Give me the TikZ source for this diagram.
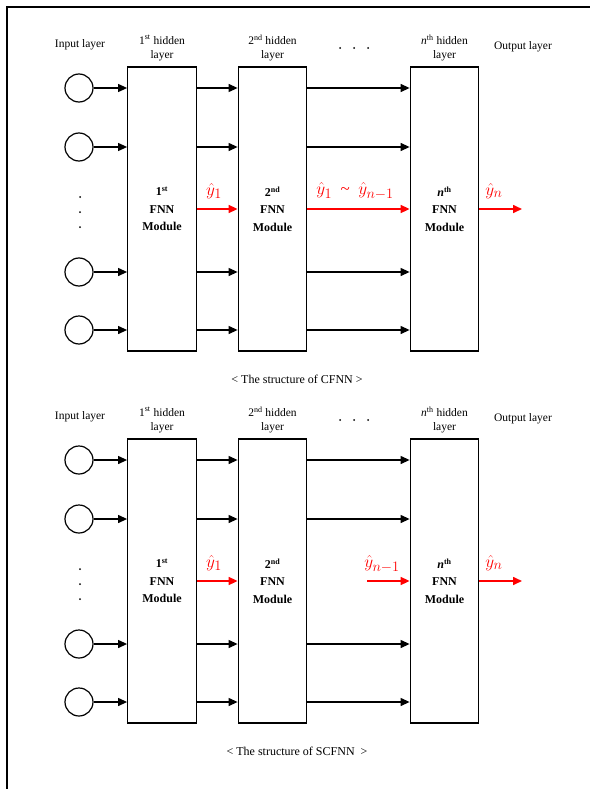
\documentclass[tikz,border=0pt]{standalone}
\usepackage{fontspec}
\setmainfont{Liberation Serif}
\usetikzlibrary{arrows.meta, positioning, calc}
\DeclareMathSizes{17}{17}{14}{11}
\tikzset{
  every picture/.style={line width=1.3pt},
  neuron/.style={draw, circle, minimum size=28pt, inner sep=0pt, line width=1.2pt},
  module/.style={draw, minimum width=68.5pt, minimum height=284pt, align=center, inner sep=0pt, font=\fontsize{12}{17.5}\selectfont\bfseries},
  head/.style={align=center, inner sep=0pt, font=\fontsize{11.5}{14}\selectfont},
  arrow/.style={-{Triangle[length=9pt, width=8pt]}, line width=1.2pt},
  redarrow/.style={arrow, red, line width=1.6pt},
  ylabel/.style={red, inner sep=0pt, font=\fontsize{17}{19}\selectfont},
  caption/.style={inner sep=0pt, font=\fontsize{12}{14}\selectfont},
}
\begin{document}
\begin{tikzpicture}[x=1pt, y=-1pt]
  \useasboundingbox (0,0) rectangle (590,789);
  % frame, only its top and left edges are in the picture
  \draw[line width=2pt] (7,789) -- (7,7) -- (590,7);
  \foreach \p/\dy/\cap in {c/0/{< The structure of CFNN >}, s/372/{< The structure of SCFNN~~>}} {
    \begin{scope}[shift={(0,\dy)}]
      % input neurons
      \foreach \i/\y in {1/88, 2/147, 3/272, 4/330}
        \node[neuron] (\p-in\i) at (79,\y) {};
      \foreach \y in {197,212,227}
        \fill (80,\y) circle (1pt);
      % FNN modules
      \node[module] (\p-b1) at (162,209) {1\textsuperscript{st}\\FNN\\Module};
      \node[module] (\p-b2) at (272.5,209) {2\textsuperscript{nd}\\FNN\\Module};
      \node[module] (\p-bn) at (444.5,209) {\textit{n}\textsuperscript{th}\\FNN\\Module};
      % layer titles
      \node[head] (\p-tin) at (80,45) {Input layer};
      \node[head] (\p-t1) at (162,48) {1\textsuperscript{st} hidden\\layer};
      \node[head] (\p-t2) at (272.5,48) {2\textsuperscript{nd} hidden\\layer};
      \node[head] (\p-tn) at (444.5,48) {\textit{n}\textsuperscript{th} hidden\\layer};
      \node[head] (\p-tout) at (523,47) {Output layer};
      \foreach \x in {340,354,368}
        \fill (\x,48) circle (1pt);
      % connections
      \foreach \i in {1,...,4} {
        \draw[arrow] (\p-in\i) -- (\p-in\i -| \p-b1.west);
        \draw[arrow] (\p-in\i -| \p-b1.east) -- (\p-in\i -| \p-b2.west);
        \draw[arrow] (\p-in\i -| \p-b2.east) -- (\p-in\i -| \p-bn.west);
      }
      \draw[redarrow] (\p-b1.east) -- (\p-b2.west);
      \node[ylabel] (\p-y1) at (214,191) {$\hat{y}_1$};
      \coordinate (\p-out) at (522,209);
      \draw[redarrow] (\p-bn.east) -- (\p-out);
      \node[ylabel] (\p-yn) at (494,191) {$\hat{y}_n$};
      \node[caption] (\p-cap) at (297,379) {\cap};
    \end{scope}
  }
  % CFNN: every earlier output goes on to the n-th module
  \draw[redarrow] (c-b2.east) -- (c-bn.west);
  \node[ylabel] (c-yall) at (355,191) {$\hat{y}_1$\ \ \textasciitilde\ \ $\hat{y}_{n-1}$};
  % SCFNN: only the last one
  \coordinate (s-prev) at (367,581);
  \draw[redarrow] (s-prev) -- (s-prev -| s-bn.west);
  \node[ylabel] (s-yprev) at (382,564) {$\hat{y}_{n-1}$};
\end{tikzpicture}
\end{document}
